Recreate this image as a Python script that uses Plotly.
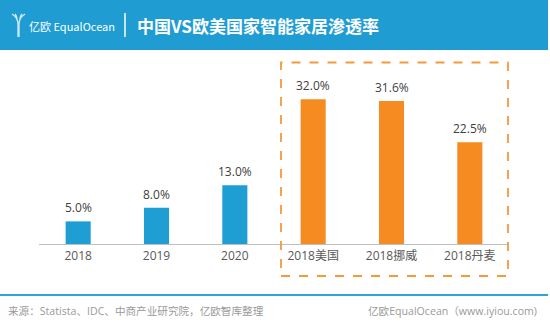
import plotly.graph_objects as go

categories = ["2018", "2019", "2020", "2018美国", "2018挪威", "2018丹麦"]
values = [5.0, 8.0, 13.0, 32.0, 31.6, 22.5]
bar_colors = ["#1f9ed4"] * 3 + ["#f68b22"] * 3
title_text = "中国VS欧美国家智能家居渗透率"
source_text = "来源：Statista、IDC、中商产业研究院，亿欧智库整理"
credit_text = "亿欧EqualOcean（www.iyiou.com)"

W, H = 550, 329
L, R, T, B = 39, 41, 63, 85
PW, PH = W - L - R, H - T - B


def px(x):
    return (x - L) / PW


def py(y):
    return (H - B - y) / PH


FONT = "Open Sans, Noto Sans CJK SC, sans-serif"
pos = list(range(len(categories)))

fig = go.Figure()
fig.add_trace(go.Bar(
    x=pos, y=values, marker=dict(color=bar_colors, line=dict(width=0)),
    width=0.32, hoverinfo="skip",
))

annotations = []
for i, v in zip(pos, values):
    annotations.append(dict(
        x=i, y=v, xref="x", yref="y", text=f"{v:.1f}%", showarrow=False,
        yanchor="bottom", yshift=3, font=dict(family=FONT, size=12, color="#404040"),
    ))

# header texts
annotations.append(dict(
    x=px(135), y=py(25), xref="paper", yref="paper", text=title_text, showarrow=False,
    xanchor="left", yanchor="middle",
    font=dict(family="Noto Sans CJK SC, sans-serif", size=17, color="white", weight="bold"),
))
annotations.append(dict(
    x=px(27), y=py(25.5), xref="paper", yref="paper", text="亿欧 EqualOcean", showarrow=False,
    xanchor="left", yanchor="middle",
    font=dict(family="Noto Sans CJK SC, sans-serif", size=11, color="white"),
))
# footer texts
annotations.append(dict(
    x=px(6), y=py(311), xref="paper", yref="paper", text=source_text, showarrow=False,
    xanchor="left", yanchor="middle",
    font=dict(family=FONT, size=10.6, color="#9a9a9a"),
))
annotations.append(dict(
    x=px(539), y=py(311), xref="paper", yref="paper", text=credit_text, showarrow=False,
    xanchor="right", yanchor="middle",
    font=dict(family=FONT, size=10.6, color="#9a9a9a"),
))

shapes = [
    # header band
    dict(type="rect", xref="paper", yref="paper", x0=px(0), x1=px(548), y0=py(0), y1=py(50),
         fillcolor="#1f9dd3", line=dict(width=0), layer="below"),
    # separator
    dict(type="line", xref="paper", yref="paper", x0=px(125), x1=px(125), y0=py(13), y1=py(37),
         line=dict(color="white", width=1.5)),
    # logo icon
    dict(type="path", xref="paper", yref="paper",
         path=f"M{px(12):.5f},{py(14):.5f} Q{px(18):.5f},{py(18):.5f} {px(18):.5f},{py(24):.5f} L{px(18):.5f},{py(37):.5f} "
              f"M{px(25):.5f},{py(14):.5f} Q{px(19):.5f},{py(18):.5f} {px(19):.5f},{py(24):.5f} L{px(19):.5f},{py(37):.5f} "
              f"M{px(15):.5f},{py(14):.5f} Q{px(17):.5f},{py(16):.5f} {px(17.3):.5f},{py(21):.5f} "
              f"M{px(22):.5f},{py(14):.5f} Q{px(20):.5f},{py(16):.5f} {px(19.7):.5f},{py(21):.5f}",
         line=dict(color="#cfeaf7", width=1.3)),
    # footer line
    dict(type="line", xref="paper", yref="paper", x0=px(0), x1=px(548), y0=py(295), y1=py(295),
         line=dict(color="#2fa3d8", width=2.2)),
    # dashed highlight box
    dict(type="rect", xref="paper", yref="paper", x0=px(281), x1=px(508), y0=py(276), y1=py(62.5),
         line=dict(color="#f39a3c", width=1.8, dash="dash"), fillcolor="rgba(0,0,0,0)"),
]

fig.update_layout(
    width=W, height=H, margin=dict(l=L, r=R, t=T, b=B),
    paper_bgcolor="white", plot_bgcolor="white",
    showlegend=False, annotations=annotations, shapes=shapes,
    xaxis=dict(range=[-0.5, 5.5], tickvals=pos, ticktext=categories, showgrid=False, zeroline=False,
               showline=True, linecolor="#bfbfbf", linewidth=1.3,
               ticks="", tickfont=dict(family=FONT, size=12, color="#595959"), fixedrange=True),
    yaxis=dict(range=[0, 40], visible=False, fixedrange=True),
)

fig.write_html("out.html", config=dict(displayModeBar=False))
